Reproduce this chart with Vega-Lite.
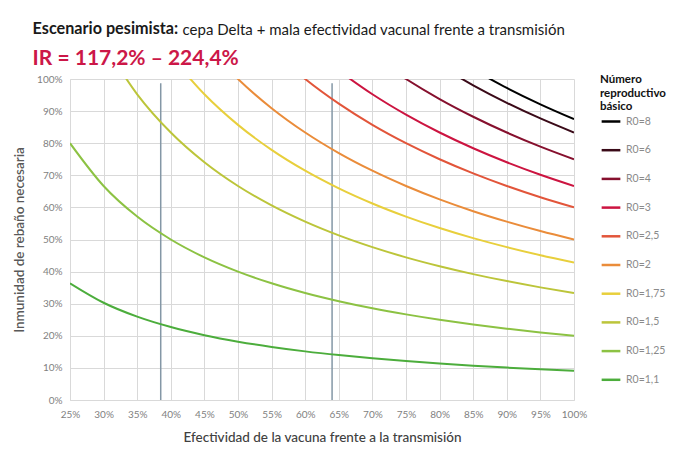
{
  "$schema": "https://vega.github.io/schema/vega-lite/v6.json",
  "background": "white",
  "padding": {"left": 12, "top": 20, "right": 5, "bottom": 5},
  "title": {
    "text": "cepa Delta + mala efectividad vacunal frente a transmisión",
    "anchor": "start",
    "frame": "bounds",
    "offset": -17,
    "dx": 170,
    "font": "Lato",
    "fontSize": 15,
    "fontWeight": "normal",
    "color": "#1a1a1a"
  },
  "config": {
    "font": "Lato",
    "view": {"stroke": null},
    "axis": {"labelOverlap": false, "labelFlush": false}
  },
  "datasets": {
    "curves": [
      {"serie": "R0=1,1", "e": 0.25, "v": 0.3636},
      {"serie": "R0=1,1", "e": 0.30, "v": 0.3030},
      {"serie": "R0=1,1", "e": 0.35, "v": 0.2597},
      {"serie": "R0=1,1", "e": 0.40, "v": 0.2273},
      {"serie": "R0=1,1", "e": 0.45, "v": 0.2020},
      {"serie": "R0=1,1", "e": 0.50, "v": 0.1818},
      {"serie": "R0=1,1", "e": 0.55, "v": 0.1653},
      {"serie": "R0=1,1", "e": 0.60, "v": 0.1515},
      {"serie": "R0=1,1", "e": 0.65, "v": 0.1399},
      {"serie": "R0=1,1", "e": 0.70, "v": 0.1299},
      {"serie": "R0=1,1", "e": 0.75, "v": 0.1212},
      {"serie": "R0=1,1", "e": 0.80, "v": 0.1136},
      {"serie": "R0=1,1", "e": 0.85, "v": 0.1070},
      {"serie": "R0=1,1", "e": 0.90, "v": 0.1010},
      {"serie": "R0=1,1", "e": 0.95, "v": 0.0957},
      {"serie": "R0=1,1", "e": 1.00, "v": 0.0909},
      {"serie": "R0=1,25", "e": 0.25, "v": 0.8},
      {"serie": "R0=1,25", "e": 0.30, "v": 0.6667},
      {"serie": "R0=1,25", "e": 0.35, "v": 0.5714},
      {"serie": "R0=1,25", "e": 0.40, "v": 0.5},
      {"serie": "R0=1,25", "e": 0.45, "v": 0.4444},
      {"serie": "R0=1,25", "e": 0.50, "v": 0.4},
      {"serie": "R0=1,25", "e": 0.55, "v": 0.3636},
      {"serie": "R0=1,25", "e": 0.60, "v": 0.3333},
      {"serie": "R0=1,25", "e": 0.65, "v": 0.3077},
      {"serie": "R0=1,25", "e": 0.70, "v": 0.2857},
      {"serie": "R0=1,25", "e": 0.75, "v": 0.2667},
      {"serie": "R0=1,25", "e": 0.80, "v": 0.25},
      {"serie": "R0=1,25", "e": 0.85, "v": 0.2353},
      {"serie": "R0=1,25", "e": 0.90, "v": 0.2222},
      {"serie": "R0=1,25", "e": 0.95, "v": 0.2105},
      {"serie": "R0=1,25", "e": 1.00, "v": 0.2},
      {"serie": "R0=1,5", "e": 0.30, "v": 1.1111},
      {"serie": "R0=1,5", "e": 0.35, "v": 0.9524},
      {"serie": "R0=1,5", "e": 0.40, "v": 0.8333},
      {"serie": "R0=1,5", "e": 0.45, "v": 0.7407},
      {"serie": "R0=1,5", "e": 0.50, "v": 0.6667},
      {"serie": "R0=1,5", "e": 0.55, "v": 0.6061},
      {"serie": "R0=1,5", "e": 0.60, "v": 0.5556},
      {"serie": "R0=1,5", "e": 0.65, "v": 0.5128},
      {"serie": "R0=1,5", "e": 0.70, "v": 0.4762},
      {"serie": "R0=1,5", "e": 0.75, "v": 0.4444},
      {"serie": "R0=1,5", "e": 0.80, "v": 0.4167},
      {"serie": "R0=1,5", "e": 0.85, "v": 0.3922},
      {"serie": "R0=1,5", "e": 0.90, "v": 0.3704},
      {"serie": "R0=1,5", "e": 0.95, "v": 0.3509},
      {"serie": "R0=1,5", "e": 1.00, "v": 0.3333},
      {"serie": "R0=1,75", "e": 0.40, "v": 1.0714},
      {"serie": "R0=1,75", "e": 0.45, "v": 0.9524},
      {"serie": "R0=1,75", "e": 0.50, "v": 0.8571},
      {"serie": "R0=1,75", "e": 0.55, "v": 0.7792},
      {"serie": "R0=1,75", "e": 0.60, "v": 0.7143},
      {"serie": "R0=1,75", "e": 0.65, "v": 0.6593},
      {"serie": "R0=1,75", "e": 0.70, "v": 0.6122},
      {"serie": "R0=1,75", "e": 0.75, "v": 0.5714},
      {"serie": "R0=1,75", "e": 0.80, "v": 0.5357},
      {"serie": "R0=1,75", "e": 0.85, "v": 0.5042},
      {"serie": "R0=1,75", "e": 0.90, "v": 0.4762},
      {"serie": "R0=1,75", "e": 0.95, "v": 0.4511},
      {"serie": "R0=1,75", "e": 1.00, "v": 0.4286},
      {"serie": "R0=2", "e": 0.45, "v": 1.1111},
      {"serie": "R0=2", "e": 0.50, "v": 1.0},
      {"serie": "R0=2", "e": 0.55, "v": 0.9091},
      {"serie": "R0=2", "e": 0.60, "v": 0.8333},
      {"serie": "R0=2", "e": 0.65, "v": 0.7692},
      {"serie": "R0=2", "e": 0.70, "v": 0.7143},
      {"serie": "R0=2", "e": 0.75, "v": 0.6667},
      {"serie": "R0=2", "e": 0.80, "v": 0.625},
      {"serie": "R0=2", "e": 0.85, "v": 0.5882},
      {"serie": "R0=2", "e": 0.90, "v": 0.5556},
      {"serie": "R0=2", "e": 0.95, "v": 0.5263},
      {"serie": "R0=2", "e": 1.00, "v": 0.5},
      {"serie": "R0=2,5", "e": 0.55, "v": 1.0909},
      {"serie": "R0=2,5", "e": 0.60, "v": 1.0},
      {"serie": "R0=2,5", "e": 0.65, "v": 0.9231},
      {"serie": "R0=2,5", "e": 0.70, "v": 0.8571},
      {"serie": "R0=2,5", "e": 0.75, "v": 0.8},
      {"serie": "R0=2,5", "e": 0.80, "v": 0.75},
      {"serie": "R0=2,5", "e": 0.85, "v": 0.7059},
      {"serie": "R0=2,5", "e": 0.90, "v": 0.6667},
      {"serie": "R0=2,5", "e": 0.95, "v": 0.6316},
      {"serie": "R0=2,5", "e": 1.00, "v": 0.6},
      {"serie": "R0=3", "e": 0.65, "v": 1.0256},
      {"serie": "R0=3", "e": 0.70, "v": 0.9524},
      {"serie": "R0=3", "e": 0.75, "v": 0.8889},
      {"serie": "R0=3", "e": 0.80, "v": 0.8333},
      {"serie": "R0=3", "e": 0.85, "v": 0.7843},
      {"serie": "R0=3", "e": 0.90, "v": 0.7407},
      {"serie": "R0=3", "e": 0.95, "v": 0.7018},
      {"serie": "R0=3", "e": 1.00, "v": 0.6667},
      {"serie": "R0=4", "e": 0.70, "v": 1.0714},
      {"serie": "R0=4", "e": 0.75, "v": 1.0},
      {"serie": "R0=4", "e": 0.80, "v": 0.9375},
      {"serie": "R0=4", "e": 0.85, "v": 0.8824},
      {"serie": "R0=4", "e": 0.90, "v": 0.8333},
      {"serie": "R0=4", "e": 0.95, "v": 0.7895},
      {"serie": "R0=4", "e": 1.00, "v": 0.75},
      {"serie": "R0=6", "e": 0.80, "v": 1.0417},
      {"serie": "R0=6", "e": 0.85, "v": 0.9804},
      {"serie": "R0=6", "e": 0.90, "v": 0.9259},
      {"serie": "R0=6", "e": 0.95, "v": 0.8772},
      {"serie": "R0=6", "e": 1.00, "v": 0.8333},
      {"serie": "R0=8", "e": 0.85, "v": 1.0294},
      {"serie": "R0=8", "e": 0.90, "v": 0.9722},
      {"serie": "R0=8", "e": 0.95, "v": 0.9211},
      {"serie": "R0=8", "e": 1.00, "v": 0.875}
    ],
    "marks": [
      {"e": 0.385, "top": 0.987, "bottom": 0},
      {"e": 0.64, "top": 0.987, "bottom": 0}
    ]
  },
  "vconcat": [
    {
      "title": {
        "text": "Escenario pesimista:",
        "subtitle": "IR = 117,2% – 224,4%",
        "anchor": "start",
        "frame": "bounds",
        "dx": 20,
        "offset": 5,
        "font": "Lato",
        "fontSize": 16.2,
        "fontWeight": "bold",
        "color": "#1a1a1a",
        "subtitleFont": "Lato",
        "subtitleFontSize": 21,
        "subtitleFontWeight": "bold",
        "subtitleColor": "#cc1748",
        "subtitlePadding": 11
      },
      "width": 504,
      "height": 321,
      "encoding": {
        "x": {
          "field": "e", "type": "quantitative",
          "scale": {"domain": [0.25, 1], "nice": false, "zero": false},
          "axis": {
            "title": "Efectividad de la vacuna frente a la transmisión",
            "values": [0.25, 0.3, 0.35, 0.4, 0.45, 0.5, 0.55, 0.6, 0.65, 0.7, 0.75, 0.8, 0.85, 0.9, 0.95, 1.0],
            "format": ".0%",
            "labelOverlap": false,
            "labelFlush": false,
            "labelColor": "#7f7f7f", "labelFontSize": 10, "labelPadding": 9,
            "ticks": false, "domainColor": "#d9d9d9", "gridColor": "#d9d9d9",
            "titleColor": "#404040", "titleFontSize": 13.5, "titleFontWeight": 500, "titlePadding": 11
          }
        }
      },
      "layer": [
        {
          "data": {"name": "marks"},
          "mark": {"type": "rule", "color": "#8497a6", "strokeWidth": 1.5},
          "encoding": {
            "y": {"field": "top", "type": "quantitative", "scale": {"domain": [0, 1], "nice": false},
              "axis": {
                "title": "Inmunidad de rebaño necesaria",
                "values": [0, 0.1, 0.2, 0.3, 0.4, 0.5, 0.6, 0.7, 0.8, 0.9, 1.0],
                "format": ".0%",
                "labelOverlap": false,
                "labelFlush": false,
                "labelColor": "#7f7f7f", "labelFontSize": 10, "labelPadding": 8,
                "ticks": false, "domainColor": "#d9d9d9", "gridColor": "#d9d9d9",
                "titleColor": "#595959", "titleFontSize": 13.5, "titleFontWeight": 600, "titlePadding": 10
              }
            },
            "y2": {"field": "bottom"}
          }
        },
        {
          "data": {"name": "curves"},
          "mark": {"type": "line", "clip": true, "interpolate": "monotone", "strokeWidth": 2},
          "encoding": {
            "y": {
              "field": "v", "type": "quantitative",
              "scale": {"domain": [0, 1], "nice": false},
              "axis": {
                "title": "Inmunidad de rebaño necesaria",
                "values": [0, 0.1, 0.2, 0.3, 0.4, 0.5, 0.6, 0.7, 0.8, 0.9, 1.0],
                "format": ".0%",
                "labelOverlap": false,
                "labelFlush": false,
                "labelColor": "#7f7f7f", "labelFontSize": 10, "labelPadding": 8,
                "ticks": false, "domainColor": "#d9d9d9", "gridColor": "#d9d9d9",
                "titleColor": "#595959", "titleFontSize": 13.5, "titleFontWeight": 600, "titlePadding": 10
              }
            },
            "color": {
              "field": "serie", "type": "nominal",
              "scale": {
                "domain": ["R0=8", "R0=6", "R0=4", "R0=3", "R0=2,5", "R0=2", "R0=1,75", "R0=1,5", "R0=1,25", "R0=1,1"],
                "range": ["#000000", "#3a0a18", "#86102e", "#cc1440", "#e2553a", "#ea8c3a", "#e8cf3c", "#bcc53a", "#8cc243", "#4cad3c"]
              },
              "legend": {
                "title": ["Número", "reproductivo", "básico"],
                "titleFontSize": 11.5, "titleFontWeight": "bold", "titleColor": "#111111",
                "titlePadding": -2,
                "symbolType": "stroke", "symbolSize": 350, "symbolStrokeWidth": 2.5,
                "labelColor": "#8a8a8a", "labelFontSize": 10.5,
                "rowPadding": 11.7,
                "orient": "none", "legendX": 530, "legendY": -5
              }
            },
            "strokeWidth": {
              "condition": {"test": "datum.serie === 'R0=1,1'", "value": 2.6},
              "value": 2
            }
          }
        }
      ]
    }
  ]
}
